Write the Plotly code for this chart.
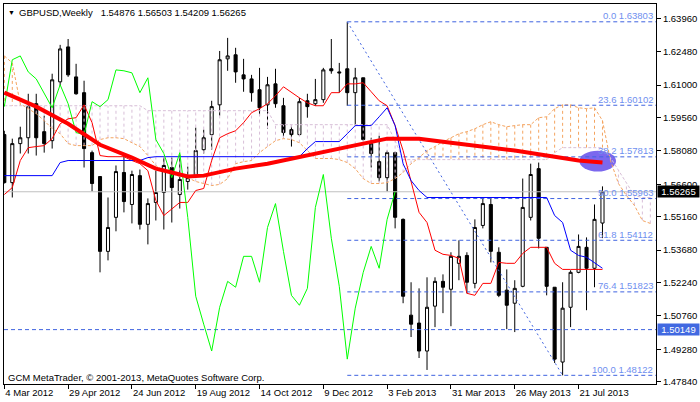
import plotly.graph_objects as go

# ---------------- data ----------------
tick_idx = [0, 8, 16, 24, 32, 40, 48, 56, 64, 72]
tick_labels = ["4 Mar 2012", "29 Apr 2012", "24 Jun 2012", "19 Aug 2012", "14 Oct 2012",
               "9 Dec 2012", "3 Feb 2013", "31 Mar 2013", "26 May 2013", "21 Jul 2013"]

y_tick_labels = ["1.63960", "1.62480", "1.61000", "1.59560", "1.58080", "1.56600",
                 "1.55160", "1.53680", "1.52240", "1.50760", "1.49280", "1.47840"]

open_ = [1.5880, 1.5667, 1.5840, 1.5866, 1.6017, 1.5893, 1.5853, 1.6114, 1.6269, 1.6136,
         1.6066, 1.5800, 1.5694, 1.5362, 1.5513, 1.5712, 1.5570, 1.5698, 1.5482, 1.5579,
         1.5623, 1.5734, 1.5614, 1.5672, 1.5694, 1.5813, 1.5880, 1.6012, 1.6216, 1.6234,
         1.6145, 1.6127, 1.6079, 1.6012, 1.6105, 1.6008, 1.5902, 1.5880, 1.6030, 1.6017,
         1.6035, 1.6172, 1.6158, 1.6172, 1.6066, 1.6132, 1.5840, 1.5760, 1.5689, 1.5800,
         1.5504, 1.5079, 1.5044, 1.4920, 1.5119, 1.5229, 1.5194, 1.5309, 1.5344, 1.5220,
         1.5477, 1.5570, 1.5358, 1.5190, 1.5132, 1.5207, 1.5513, 1.5729, 1.5380, 1.5203,
         1.4871, 1.5114, 1.5269, 1.5380, 1.5287, 1.54876]
high = [1.5897, 1.5862, 1.5915, 1.6061, 1.6061, 1.5964, 1.6150, 1.6278, 1.6304, 1.6194,
        1.6119, 1.5809, 1.5694, 1.5601, 1.5743, 1.5796, 1.5720, 1.5725, 1.5597, 1.5720,
        1.5778, 1.5778, 1.5791, 1.5738, 1.5911, 1.5902, 1.6030, 1.6251, 1.6309, 1.6265,
        1.6216, 1.6145, 1.6176, 1.6136, 1.6172, 1.6043, 1.5920, 1.6043, 1.6061, 1.6127,
        1.6176, 1.6304, 1.6198, 1.63803, 1.6176, 1.6132, 1.5866, 1.5875, 1.5809, 1.5804,
        1.5508, 1.5225, 1.5198, 1.5247, 1.5247, 1.5260, 1.5358, 1.5411, 1.5358, 1.5504,
        1.5601, 1.5601, 1.5380, 1.5282, 1.5234, 1.5685, 1.5751, 1.5756, 1.5380, 1.5203,
        1.5225, 1.5278, 1.5437, 1.5424, 1.5570, 1.56503]
low = [1.5663, 1.5601, 1.5796, 1.5796, 1.5787, 1.5800, 1.5818, 1.6096, 1.6136, 1.6057,
       1.5734, 1.5628, 1.5269, 1.5322, 1.5451, 1.5535, 1.5486, 1.5459, 1.5393, 1.5499,
       1.5459, 1.5490, 1.5552, 1.5636, 1.5689, 1.5796, 1.5813, 1.5964, 1.6163, 1.6110,
       1.6070, 1.6026, 1.5964, 1.5906, 1.5999, 1.5866, 1.5827, 1.5875, 1.5955, 1.6008,
       1.6021, 1.6150, 1.6066, 1.6008, 1.5920, 1.5853, 1.5734, 1.5672, 1.5628, 1.5464,
       1.5132, 1.4982, 1.4889, 1.4836, 1.5026, 1.5088, 1.5030, 1.5234, 1.5176, 1.5198,
       1.5464, 1.5313, 1.5159, 1.5017, 1.5004, 1.5203, 1.5499, 1.5375, 1.5167, 1.4867,
       1.48122, 1.5026, 1.5265, 1.5101, 1.5203, 1.54209]
close = [1.5667, 1.5840, 1.5866, 1.6004, 1.5866, 1.5840, 1.6123, 1.6260, 1.6145, 1.6061,
         1.5818, 1.5663, 1.5362, 1.5468, 1.5716, 1.5583, 1.5703, 1.5482, 1.5574, 1.5623,
         1.5743, 1.5645, 1.5681, 1.5689, 1.5809, 1.5866, 1.6004, 1.6212, 1.6229, 1.6158,
         1.6127, 1.6066, 1.5999, 1.6101, 1.6017, 1.5889, 1.5880, 1.6026, 1.6004, 1.6035,
         1.6167, 1.6163, 1.6154, 1.6066, 1.6132, 1.5858, 1.5796, 1.5689, 1.5800, 1.5513,
         1.5163, 1.5039, 1.4920, 1.5114, 1.5229, 1.5203, 1.5340, 1.5340, 1.5225, 1.5468,
         1.5574, 1.5362, 1.5167, 1.5123, 1.5198, 1.5557, 1.5703, 1.5420, 1.5207, 1.4884,
         1.5110, 1.5269, 1.5384, 1.5287, 1.5504, 1.56265]

# thick moving average (read at these bar indices)
ma_idx = [0, 4, 8, 10, 12, 16, 19, 21, 23, 25, 27, 29, 33, 37, 41, 45, 48, 52, 56, 60, 64, 68, 72, 75]
ma_val = [1.6066, 1.6004, 1.5928, 1.5884, 1.5835, 1.5778, 1.5729, 1.5712, 1.5694, 1.5698,
          1.5712, 1.5729, 1.5751, 1.5782, 1.5813, 1.5840, 1.5862, 1.5862, 1.5844, 1.5827,
          1.5809, 1.5787, 1.5765, 1.5756]

tenkan = [1.5614, 1.5645, 1.5765, 1.5822, 1.5827, 1.5831, 1.5862, 1.5928, 1.5950, 1.5955,
          1.6012, 1.5933, 1.5787, 1.5782, 1.5782, 1.5782, 1.5765, 1.5751, 1.5720, 1.5588,
          1.5521, 1.5552, 1.5579, 1.5579, 1.5632, 1.5641, 1.5765, 1.5866, 1.5884, 1.5897,
          1.5933, 1.5977, 1.5995, 1.6017, 1.6052, 1.6092, 1.6066, 1.6043, 1.6021, 1.6008,
          1.6008, 1.6066, 1.6066, 1.6105, 1.6105, 1.6110, 1.6070, 1.6030, 1.6008, 1.5920,
          1.5809, 1.5676, 1.5535, 1.5490, 1.5367, 1.5349, 1.5344, 1.5331, 1.5176, 1.5167,
          1.5220, 1.5220, 1.5313, 1.5309, 1.5309, 1.5353, 1.5380, 1.5380, 1.5380, 1.5309,
          1.5282, 1.5282, 1.5282, 1.5282, 1.5282, 1.5282]

kijun = [1.5698, 1.5698, 1.5698, 1.5698, 1.5698, 1.5698, 1.5698, 1.5756, 1.5765, 1.5765,
         1.5765, 1.5765, 1.5765, 1.5765, 1.5765, 1.5765, 1.5765, 1.5765, 1.5778, 1.5782,
         1.5782, 1.5782, 1.5782, 1.5782, 1.5782, 1.5782, 1.5782, 1.5782, 1.5782, 1.5782,
         1.5782, 1.5782, 1.5782, 1.5782, 1.5782, 1.5782, 1.5782, 1.5782, 1.5818, 1.5849,
         1.5849, 1.5849, 1.5849, 1.5884, 1.5920, 1.5920, 1.5920, 1.5959, 1.5999, 1.5920,
         1.5751, 1.5676, 1.5632, 1.5601, 1.5601, 1.5601, 1.5601, 1.5601, 1.5601, 1.5601,
         1.5601, 1.5601, 1.5601, 1.5601, 1.5601, 1.5601, 1.5601, 1.5601, 1.5601, 1.5521,
         1.5490, 1.5367, 1.5344, 1.5336, 1.5313, 1.5287]

span_a = [1.6229, 1.6198, 1.6017, 1.5995, 1.5973, 1.5942, 1.5906, 1.5884, 1.5840, 1.5831,
          1.5831, 1.5831, 1.5858, 1.5866, 1.5866, 1.5862, 1.5844, 1.5827, 1.5787, 1.5743,
          1.5720, 1.5707, 1.5694, 1.5689, 1.5672, 1.5663, 1.5654, 1.5659, 1.5685, 1.5751,
          1.5760, 1.5765, 1.5800, 1.5827, 1.5853, 1.5862, 1.5858, 1.5844, 1.5809, 1.5774,
          1.5774, 1.5774, 1.5769, 1.5756, 1.5729, 1.5685, 1.5663, 1.5663, 1.5667, 1.5685,
          1.5712, 1.5751, 1.5778, 1.5809, 1.5827, 1.5849, 1.5866, 1.5884, 1.5893, 1.5906,
          1.5924, 1.5937, 1.5924, 1.5915, 1.5920, 1.5924, 1.5924, 1.5955, 1.5959, 1.5995,
          1.6012, 1.6012, 1.5999, 1.5995, 1.5999, 1.5942, 1.5765, 1.5663, 1.5610, 1.5566,
          1.5499, 1.5486]
span_b = [1.6008] * 18 + [1.5986] * 16 + [1.5924] * 15 + [1.5853] + [1.5769] * 19 + \
         [1.5800] + [1.5822] * 6 + [1.5778, 1.5720, 1.5663, 1.5610, 1.5601, 1.5601]

CHIKOU_SHIFT = 26

fib_high_idx, fib_low_idx = 43, 70
fib_levels = [1.63803, 1.60102, 1.57813, 1.55963, 1.54112, 1.51823, 1.48122]
fib_labels = ["0.0 1.63803", "23.6 1.60102", "38.2 1.57813", "50.0 1.55963",
              "61.8 1.54112", "76.4 1.51823", "100.0 1.48122"]

hline_level = 1.50149
bid_price = 1.56265
title_text = "GBPUSD,Weekly\u00a0\u00a0 1.54876 1.56503 1.54209 1.56265"
copyright_text = "GCM MetaTrader, \u00a9 2001-2013, MetaQuotes Software Corp."

# ellipse marker (centre bar index, centre price, half width in bars, half height in price)
ell_cx, ell_cy, ell_rx, ell_ry = 74.4, 1.57624, 2.3, 0.00465

# ---------------- figure ----------------
X_MIN, X_MAX = -0.04, 81.71
Y_MIN, Y_MAX = 1.47737, 1.64593
FONT = "Liberation Sans"
FS = 9.5
FIB_LINE = "#3F63E0"
FIB_TEXT = "#6F8FEF"

n = len(close)
x = list(range(n))

fig = go.Figure()

# bid line (background)
fig.add_trace(go.Scatter(x=[X_MIN, X_MAX], y=[bid_price, bid_price], mode="lines",
                         line=dict(color="#C0C0C0", width=1), hoverinfo="skip"))

fig.add_trace(go.Candlestick(
    x=x, open=open_, high=high, low=low, close=close,
    increasing=dict(line=dict(color="black", width=1), fillcolor="white"),
    decreasing=dict(line=dict(color="black", width=1), fillcolor="black"),
    whiskerwidth=0, hoverinfo="none"))

# cloud hatching
hx_up, hy_up, hx_dn, hy_dn = [], [], [], []
for i, (a, b) in enumerate(zip(span_a, span_b)):
    if a >= b:
        hx_up += [i, i, None]; hy_up += [a, b, None]
    else:
        hx_dn += [i, i, None]; hy_dn += [a, b, None]
fig.add_trace(go.Scatter(x=hx_up, y=hy_up, mode="lines",
                         line=dict(color="#F4A460", width=1, dash="3px,3px"), hoverinfo="skip"))
fig.add_trace(go.Scatter(x=hx_dn, y=hy_dn, mode="lines",
                         line=dict(color="#D8BFD8", width=1, dash="3px,3px"), hoverinfo="skip"))
fig.add_trace(go.Scatter(x=list(range(len(span_a))), y=span_a, mode="lines",
                         line=dict(color="#F4A460", width=1, dash="3px,2px"), hoverinfo="skip"))
fig.add_trace(go.Scatter(x=list(range(len(span_b))), y=span_b, mode="lines",
                         line=dict(color="#D8BFD8", width=1, dash="3px,2px"), hoverinfo="skip"))

# fibonacci
for lvl in fib_levels:
    fig.add_trace(go.Scatter(x=[fib_high_idx, X_MAX], y=[lvl, lvl], mode="lines",
                             line=dict(color=FIB_LINE, width=1, dash="4px,3px"), hoverinfo="skip"))
fig.add_trace(go.Scatter(x=[fib_high_idx, fib_low_idx], y=[fib_levels[0], fib_levels[-1]],
                         mode="lines", line=dict(color=FIB_LINE, width=1, dash="2px,3px"),
                         hoverinfo="skip"))
fig.add_trace(go.Scatter(x=[X_MIN, X_MAX], y=[hline_level, hline_level], mode="lines",
                         line=dict(color=FIB_LINE, width=1, dash="4px,3px"), hoverinfo="skip"))

# ichimoku lines
fig.add_trace(go.Scatter(x=x, y=tenkan, mode="lines", line=dict(color="#FF0000", width=1),
                         hoverinfo="skip"))
fig.add_trace(go.Scatter(x=x, y=kijun, mode="lines", line=dict(color="#0000FF", width=1),
                         hoverinfo="skip"))
chikou_y = close[CHIKOU_SHIFT:]
fig.add_trace(go.Scatter(x=list(range(len(chikou_y))), y=chikou_y, mode="lines",
                         line=dict(color="#00FF00", width=1), hoverinfo="skip"))

# moving average
fig.add_trace(go.Scatter(x=ma_idx, y=ma_val, mode="lines", line=dict(color="#FF0000", width=4),
                         hoverinfo="skip"))

shapes = [dict(type="circle", xref="x", yref="y", layer="below",
               x0=ell_cx - ell_rx, x1=ell_cx + ell_rx, y0=ell_cy - ell_ry, y1=ell_cy + ell_ry,
               fillcolor="#7B68EE", line=dict(width=0))]

annotations = []
for lvl, lab in zip(fib_levels, fib_labels):
    annotations.append(dict(x=X_MAX, y=lvl, xref="x", yref="y", text=lab, showarrow=False,
                            xanchor="right", yanchor="middle", yshift=6, xshift=-1,
                            font=dict(family=FONT, size=FS, color=FIB_TEXT)))
annotations.append(dict(x=0, y=1, xref="paper", yref="paper", text="\u25bc", showarrow=False,
                        xanchor="left", yanchor="middle", xshift=2, yshift=-8,
                        font=dict(family=FONT, size=7, color="black")))
annotations.append(dict(x=0, y=1, xref="paper", yref="paper", text=title_text, showarrow=False,
                        xanchor="left", yanchor="middle", xshift=13, yshift=-8,
                        font=dict(family=FONT, size=FS, color="black")))
annotations.append(dict(x=0, y=0, xref="paper", yref="paper", text=copyright_text,
                        showarrow=False, xanchor="left", yanchor="middle", xshift=2, yshift=7,
                        font=dict(family=FONT, size=FS, color="black")))
annotations.append(dict(x=1, y=bid_price, xref="paper", yref="y", text="1.56265",
                        showarrow=False, xanchor="left", yanchor="middle", xshift=1,
                        bgcolor="black", width=41, height=11, borderpad=0,
                        font=dict(family=FONT, size=FS, color="white")))
annotations.append(dict(x=1, y=hline_level, xref="paper", yref="y", text="1.50149",
                        showarrow=False, xanchor="left", yanchor="middle", xshift=1,
                        bgcolor="#4169E1", width=41, height=11, borderpad=0,
                        font=dict(family=FONT, size=FS, color="white")))

fig.update_layout(
    width=700, height=402, margin=dict(l=3, r=43, t=3, b=18),
    paper_bgcolor="white", plot_bgcolor="white", showlegend=False, boxgap=0.45,
    hovermode=False,
    xaxis=dict(range=[X_MIN, X_MAX], rangeslider=dict(visible=False), showgrid=False,
               zeroline=False, showline=True, linecolor="black", linewidth=1, mirror=True,
               ticks="outside", ticklen=4, tickcolor="black", tickvals=tick_idx,
               ticktext=tick_labels, ticklabelposition="outside right",
               tickfont=dict(family=FONT, size=FS, color="black")),
    yaxis=dict(range=[Y_MIN, Y_MAX], side="right", showgrid=False, zeroline=False,
               showline=True, linecolor="black", linewidth=1, mirror=True, ticks="outside",
               ticklen=4, tickcolor="black", tickvals=[float(v) for v in y_tick_labels],
               ticktext=y_tick_labels, tickfont=dict(family=FONT, size=FS, color="black")),
    shapes=shapes, annotations=annotations,
)

fig.write_html("out.html", config={"displayModeBar": False},
               post_script="document.body.style.margin='0';document.body.style.padding='0';")
